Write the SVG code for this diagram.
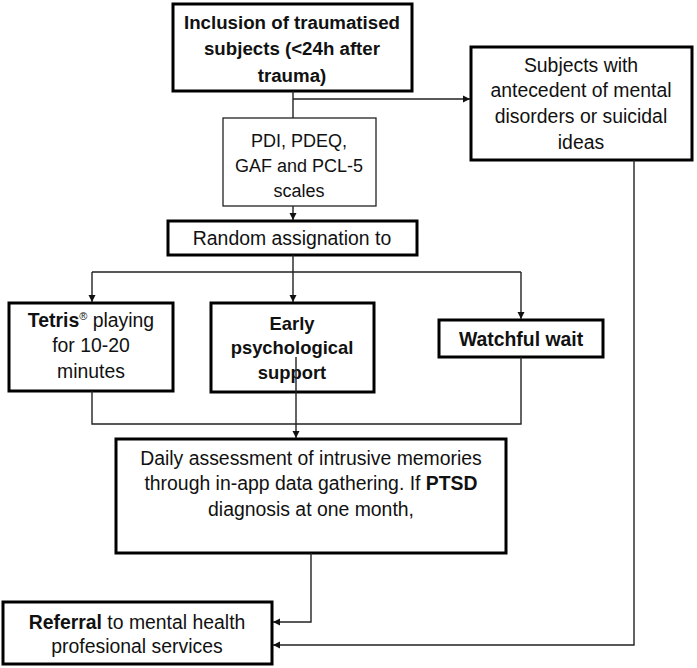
<svg xmlns="http://www.w3.org/2000/svg" width="697" height="668" viewBox="0 0 697 668">
<style>
  .box{fill:#fff;stroke:#000;stroke-width:3}
  .thin{fill:#fff;stroke:#222;stroke-width:1.3}
  .t{font-family:"Liberation Sans",Arial,sans-serif;font-size:19.4px;fill:#111;text-anchor:middle}
  .b{font-weight:bold}
  .c{fill:none;stroke:#222;stroke-width:1.4}
</style>
<defs>
  <marker id="ah" markerUnits="userSpaceOnUse" markerWidth="8" markerHeight="8" refX="7" refY="4" orient="auto">
    <path d="M0,0.5 L7,4 L0,7.5 z" fill="#111"/>
  </marker>
</defs>
<rect width="697" height="668" fill="#fff"/>
<g id="n-inclusion">
  <rect class="box" x="173" y="4" width="239" height="87"/>
  <text class="t b" style="font-size:18.7px"><tspan x="292" y="29">Inclusion of traumatised</tspan><tspan x="292" y="55">subjects (&lt;24h after</tspan><tspan x="292" y="82">trauma)</tspan></text>
</g>
<g id="n-antecedent">
  <rect class="box" x="471" y="47" width="221" height="113"/>
  <text class="t"><tspan x="581" y="72">Subjects with</tspan><tspan x="581" y="97">antecedent of mental</tspan><tspan x="581" y="123">disorders or suicidal</tspan><tspan x="581" y="149">ideas</tspan></text>
</g>
<g id="n-scales">
  <rect class="thin" x="223" y="118" width="153" height="88"/>
  <text class="t" style="font-size:18px"><tspan x="299" y="147">PDI, PDEQ,</tspan><tspan x="299" y="172">GAF and PCL-5</tspan><tspan x="299" y="197">scales</tspan></text>
</g>
<g id="n-random">
  <rect class="box" x="168" y="221" width="249" height="34"/>
  <text class="t"><tspan x="292" y="245">Random assignation to</tspan></text>
</g>
<g id="n-tetris">
  <rect class="box" x="9" y="303" width="164" height="88"/>
  <text class="t"><tspan x="91" y="327"><tspan class="b">Tetris</tspan><tspan font-size="11" dy="-7">®</tspan><tspan dy="7"> playing</tspan></tspan><tspan x="91" y="352">for 10-20</tspan><tspan x="91" y="378">minutes</tspan></text>
</g>
<g id="n-early">
  <rect class="box" x="211" y="303" width="163" height="89"/>
  <text class="t b" style="font-size:18.4px"><tspan x="292" y="330">Early</tspan><tspan x="292" y="354">psychological</tspan><tspan x="292" y="379">support</tspan></text>
</g>
<g id="n-watchful">
  <rect class="box" x="439" y="320" width="164" height="37"/>
  <text class="t b"><tspan x="521" y="346">Watchful wait</tspan></text>
</g>
<g id="n-daily">
  <rect class="box" x="116" y="439" width="390" height="114"/>
  <text class="t"><tspan x="311" y="465">Daily assessment of intrusive memories</tspan><tspan x="311" y="490">through in-app data gathering. If <tspan class="b">PTSD</tspan></tspan><tspan x="311" y="516">diagnosis at one month,</tspan></text>
</g>
<g id="n-referral">
  <rect class="box" x="3" y="602" width="269" height="62"/>
  <text class="t"><tspan x="137" y="629"><tspan class="b">Referral</tspan> to mental health</tspan><tspan x="137" y="653">profesional services</tspan></text>
</g>
<g id="connectors">
  <path class="c" d="M293,91 V118"/>
  <path class="c" d="M293,99 H470" marker-end="url(#ah)"/>
  <path class="c" d="M293,206 V220" marker-end="url(#ah)"/>
  <path class="c" d="M293,255 V272 M92,272 H521"/>
  <path class="c" d="M92,272 V302" marker-end="url(#ah)"/>
  <path class="c" d="M293,272 V302" marker-end="url(#ah)"/>
  <path class="c" d="M521,272 V319" marker-end="url(#ah)"/>
  <path class="c" d="M92,391 V424 H521 V357"/>
  <path class="c" d="M296,357 V438" marker-end="url(#ah)"/>
  <path class="c" d="M311,553 V622 H273" marker-end="url(#ah)"/>
  <path class="c" d="M634,160 V645 H273" marker-end="url(#ah)"/>
</g>
</svg>
